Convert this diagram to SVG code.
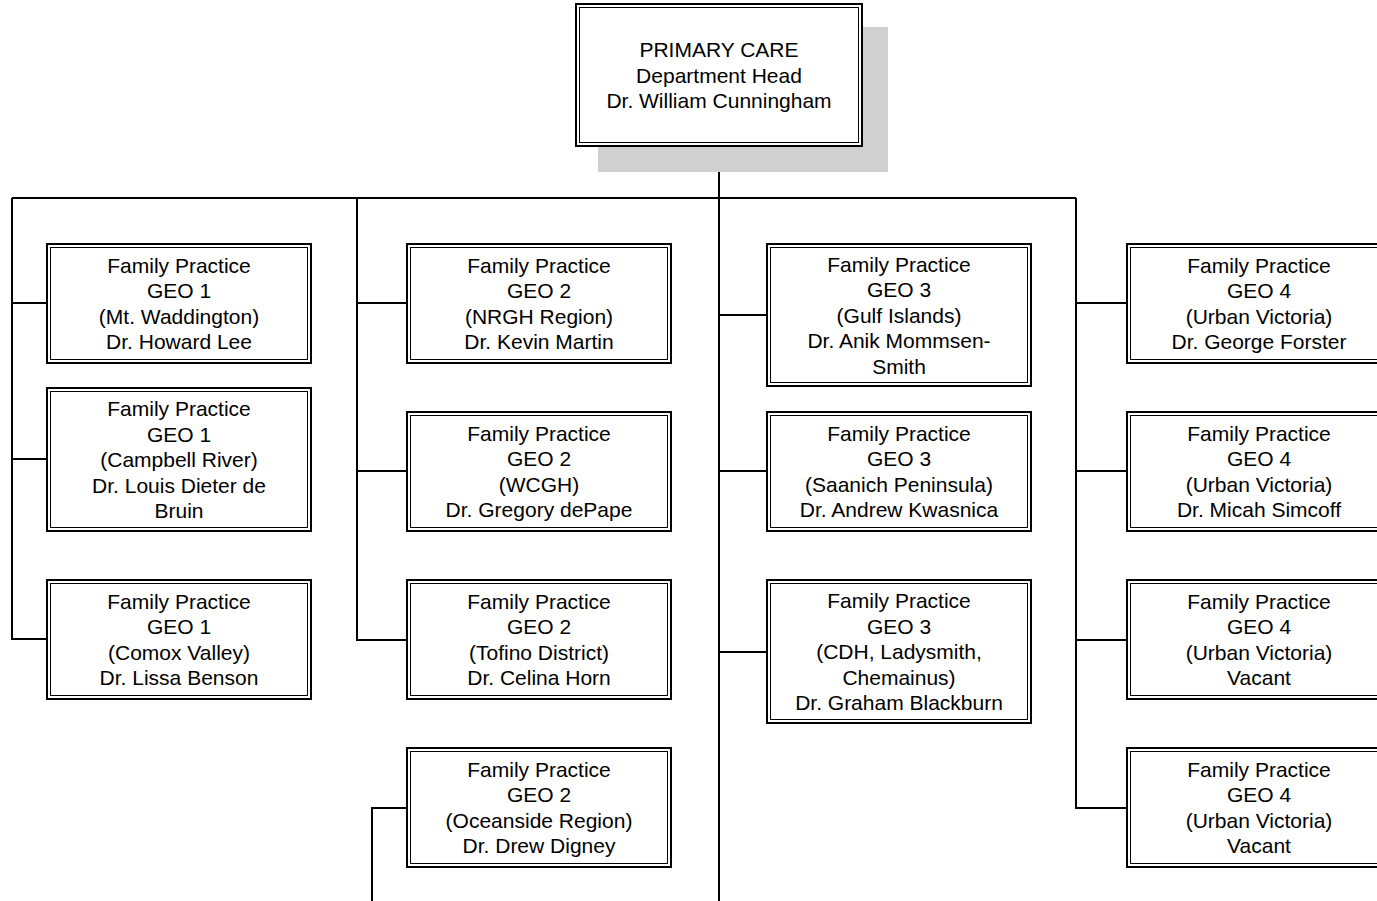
<svg xmlns="http://www.w3.org/2000/svg" width="1377" height="901" viewBox="0 0 1377 901">
<style>
.o{fill:#fff;stroke:#000;stroke-width:2}
.i{fill:none;stroke:#000;stroke-width:1}
.t{font-family:"Liberation Sans",Arial,sans-serif;font-size:21px;fill:#000;text-anchor:middle}
.c{fill:none;stroke:#000;stroke-width:2}
</style>
<rect width="1377" height="901" fill="#fff"/>
<g id="connectors">
<path class="c" d="M719 147V901M12 198H1076"/>
<path class="c" d="M12 198V639H46M12 303H46M12 459H46"/>
<path class="c" d="M357 198V640H406M357 303H406M357 471H406"/>
<path class="c" d="M406 808H372V901"/>
<path class="c" d="M719 315H766M719 471H766M719 652H766"/>
<path class="c" d="M1076 198V808H1126M1076 303H1126M1076 471H1126M1076 640H1126"/>
</g>
<g id="head">
<rect x="598" y="27" width="290" height="145" fill="#d0d0d0"/>
<rect class="o" x="576" y="4" width="286" height="142"/>
<rect class="i" x="579.5" y="7.5" width="279" height="135"/>
<text class="t" y="57"><tspan x="719">PRIMARY CARE</tspan><tspan x="719" dy="25.5">Department Head</tspan><tspan x="719" dy="25.5">Dr. William Cunningham</tspan></text>
</g>
<g id="geo1-a">
<rect class="o" x="47" y="244" width="264" height="119"/><rect class="i" x="50.5" y="247.5" width="257" height="112"/>
<text class="t" y="272.5"><tspan x="179">Family Practice</tspan><tspan x="179" dy="25.5">GEO 1</tspan><tspan x="179" dy="25.5">(Mt. Waddington)</tspan><tspan x="179" dy="25.5">Dr. Howard Lee</tspan></text>
</g>
<g id="geo1-b">
<rect class="o" x="47" y="388" width="264" height="143"/><rect class="i" x="50.5" y="391.5" width="257" height="136"/>
<text class="t" y="416"><tspan x="179">Family Practice</tspan><tspan x="179" dy="25.5">GEO 1</tspan><tspan x="179" dy="25.5">(Campbell River)</tspan><tspan x="179" dy="25.5">Dr. Louis Dieter de</tspan><tspan x="179" dy="25.5">Bruin</tspan></text>
</g>
<g id="geo1-c">
<rect class="o" x="47" y="580" width="264" height="119"/><rect class="i" x="50.5" y="583.5" width="257" height="112"/>
<text class="t" y="608.5"><tspan x="179">Family Practice</tspan><tspan x="179" dy="25.5">GEO 1</tspan><tspan x="179" dy="25.5">(Comox Valley)</tspan><tspan x="179" dy="25.5">Dr. Lissa Benson</tspan></text>
</g>
<g id="geo2-a">
<rect class="o" x="407" y="244" width="264" height="119"/><rect class="i" x="410.5" y="247.5" width="257" height="112"/>
<text class="t" y="272.5"><tspan x="539">Family Practice</tspan><tspan x="539" dy="25.5">GEO 2</tspan><tspan x="539" dy="25.5">(NRGH Region)</tspan><tspan x="539" dy="25.5">Dr. Kevin Martin</tspan></text>
</g>
<g id="geo2-b">
<rect class="o" x="407" y="412" width="264" height="119"/><rect class="i" x="410.5" y="415.5" width="257" height="112"/>
<text class="t" y="440.5"><tspan x="539">Family Practice</tspan><tspan x="539" dy="25.5">GEO 2</tspan><tspan x="539" dy="25.5">(WCGH)</tspan><tspan x="539" dy="25.5">Dr. Gregory dePape</tspan></text>
</g>
<g id="geo2-c">
<rect class="o" x="407" y="580" width="264" height="119"/><rect class="i" x="410.5" y="583.5" width="257" height="112"/>
<text class="t" y="608.5"><tspan x="539">Family Practice</tspan><tspan x="539" dy="25.5">GEO 2</tspan><tspan x="539" dy="25.5">(Tofino District)</tspan><tspan x="539" dy="25.5">Dr. Celina Horn</tspan></text>
</g>
<g id="geo2-d">
<rect class="o" x="407" y="748" width="264" height="119"/><rect class="i" x="410.5" y="751.5" width="257" height="112"/>
<text class="t" y="776.5"><tspan x="539">Family Practice</tspan><tspan x="539" dy="25.5">GEO 2</tspan><tspan x="539" dy="25.5">(Oceanside Region)</tspan><tspan x="539" dy="25.5">Dr. Drew Digney</tspan></text>
</g>
<g id="geo3-a">
<rect class="o" x="767" y="244" width="264" height="142"/><rect class="i" x="770.5" y="247.5" width="257" height="135"/>
<text class="t" y="271.5"><tspan x="899">Family Practice</tspan><tspan x="899" dy="25.5">GEO 3</tspan><tspan x="899" dy="25.5">(Gulf Islands)</tspan><tspan x="899" dy="25.5">Dr. Anik Mommsen-</tspan><tspan x="899" dy="25.5">Smith</tspan></text>
</g>
<g id="geo3-b">
<rect class="o" x="767" y="412" width="264" height="119"/><rect class="i" x="770.5" y="415.5" width="257" height="112"/>
<text class="t" y="440.5"><tspan x="899">Family Practice</tspan><tspan x="899" dy="25.5">GEO 3</tspan><tspan x="899" dy="25.5">(Saanich Peninsula)</tspan><tspan x="899" dy="25.5">Dr. Andrew Kwasnica</tspan></text>
</g>
<g id="geo3-c">
<rect class="o" x="767" y="580" width="264" height="143"/><rect class="i" x="770.5" y="583.5" width="257" height="136"/>
<text class="t" y="608"><tspan x="899">Family Practice</tspan><tspan x="899" dy="25.5">GEO 3</tspan><tspan x="899" dy="25.5">(CDH, Ladysmith,</tspan><tspan x="899" dy="25.5">Chemainus)</tspan><tspan x="899" dy="25.5">Dr. Graham Blackburn</tspan></text>
</g>
<g id="geo4-a">
<rect class="o" x="1127" y="244" width="264" height="119"/><rect class="i" x="1130.5" y="247.5" width="257" height="112"/>
<text class="t" y="272.5"><tspan x="1259">Family Practice</tspan><tspan x="1259" dy="25.5">GEO 4</tspan><tspan x="1259" dy="25.5">(Urban Victoria)</tspan><tspan x="1259" dy="25.5">Dr. George Forster</tspan></text>
</g>
<g id="geo4-b">
<rect class="o" x="1127" y="412" width="264" height="119"/><rect class="i" x="1130.5" y="415.5" width="257" height="112"/>
<text class="t" y="440.5"><tspan x="1259">Family Practice</tspan><tspan x="1259" dy="25.5">GEO 4</tspan><tspan x="1259" dy="25.5">(Urban Victoria)</tspan><tspan x="1259" dy="25.5">Dr. Micah Simcoff</tspan></text>
</g>
<g id="geo4-c">
<rect class="o" x="1127" y="580" width="264" height="119"/><rect class="i" x="1130.5" y="583.5" width="257" height="112"/>
<text class="t" y="608.5"><tspan x="1259">Family Practice</tspan><tspan x="1259" dy="25.5">GEO 4</tspan><tspan x="1259" dy="25.5">(Urban Victoria)</tspan><tspan x="1259" dy="25.5">Vacant</tspan></text>
</g>
<g id="geo4-d">
<rect class="o" x="1127" y="748" width="264" height="119"/><rect class="i" x="1130.5" y="751.5" width="257" height="112"/>
<text class="t" y="776.5"><tspan x="1259">Family Practice</tspan><tspan x="1259" dy="25.5">GEO 4</tspan><tspan x="1259" dy="25.5">(Urban Victoria)</tspan><tspan x="1259" dy="25.5">Vacant</tspan></text>
</g>
</svg>
